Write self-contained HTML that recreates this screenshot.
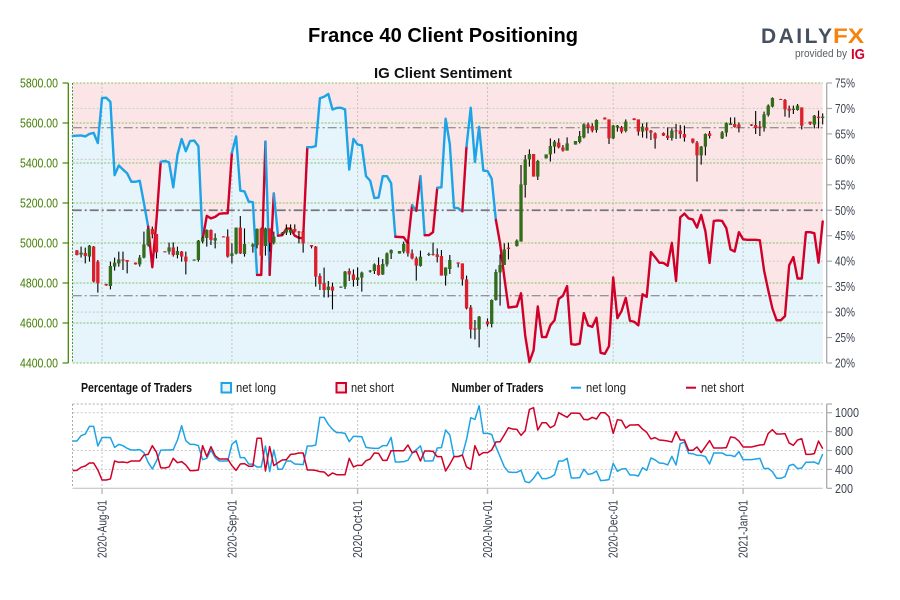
<!DOCTYPE html>
<html lang="en">
<head>
<meta charset="utf-8">
<title>France 40 Client Positioning</title>
<style>
html,body{margin:0;padding:0;background:#fff;}
svg{display:block;font-family:"Liberation Sans",sans-serif;}
</style>
</head>
<body>
<svg id="chart" xmlns="http://www.w3.org/2000/svg" width="900" height="600" viewBox="0 0 900 600">
  <rect x="0" y="0" width="900" height="600" fill="#fff"/>
  <text x="443" y="42" text-anchor="middle" font-size="20" font-weight="bold" fill="#000" textLength="270" lengthAdjust="spacingAndGlyphs">France 40 Client Positioning</text>
  <text x="443" y="78" text-anchor="middle" font-size="15" font-weight="bold" fill="#111" textLength="138" lengthAdjust="spacingAndGlyphs">IG Client Sentiment</text>
  <g>
    <text x="761" y="43" font-size="21" font-weight="bold" fill="#46505f" textLength="71" lengthAdjust="spacing">DAILY</text>
    <text x="833" y="43" font-size="21" font-weight="bold" fill="#f7820e" textLength="31" lengthAdjust="spacingAndGlyphs">FX</text>
    <text x="795" y="57" font-size="11" fill="#5a5f66" textLength="52" lengthAdjust="spacingAndGlyphs">provided by</text>
    <text x="851" y="59" font-size="15" font-weight="bold" fill="#d6002a" textLength="14" lengthAdjust="spacingAndGlyphs">IG</text>
  </g>
  <g id="main-panel"></g>
  <g id="lower-panel"></g>
  <g font-size="13" fill="#222">
    <text x="81" y="392" font-weight="bold" fill="#111" textLength="111" lengthAdjust="spacingAndGlyphs">Percentage of Traders</text>
    <rect x="221.5" y="383" width="9.5" height="9.5" fill="#e6f4fc" stroke="#1ea3e6" stroke-width="2"/>
    <text x="236" y="392" textLength="40" lengthAdjust="spacingAndGlyphs">net long</text>
    <rect x="336.5" y="383" width="9.5" height="9.5" fill="#fbe5e6" stroke="#d00028" stroke-width="2"/>
    <text x="351" y="392" textLength="43" lengthAdjust="spacingAndGlyphs">net short</text>
    <text x="451.5" y="392" font-weight="bold" fill="#111" textLength="92" lengthAdjust="spacingAndGlyphs">Number of Traders</text>
    <line x1="571" y1="387.7" x2="581" y2="387.7" stroke="#1ea3e6" stroke-width="2"/>
    <text x="586" y="392" textLength="40" lengthAdjust="spacingAndGlyphs">net long</text>
    <line x1="686" y1="387.7" x2="696" y2="387.7" stroke="#d00028" stroke-width="2"/>
    <text x="701" y="392" textLength="43" lengthAdjust="spacingAndGlyphs">net short</text>
  </g>
</svg>
<script>
// ---- chart data (one entry per calendar day, starting 2020-Jul-25) ----
const percentLong = [
64.6,64.65,64.7,64.5,65,65.2,63.2,72.05,72.1,71.3,
56.9,58.8,58,57.25,55.6,55.6,55.8,51.4,46.8,38.8,
48.1,59.5,59.7,59.4,54.5,60.9,64,61.6,63.6,63.7,
62.6,44.2,48.9,48.4,48.7,49.3,49.4,49.4,61.3,64.5,
53.85,53.7,51.7,51.6,37.3,37.3,63.5,37.3,53.3,45,
45.1,46.4,46.4,45,44.6,44.5,62.4,62.4,62.6,72,
72.3,72.85,69.8,70.1,70.15,69.8,58,64,62.9,62.75,
56.7,55.8,52.4,52.5,56.7,56.7,55.3,44.8,44.75,44.7,
43.5,51,49.9,56.7,45.1,45.1,45.7,54.4,54.5,68,
63,50.5,50.4,49.8,62.6,70.15,59.5,66.4,57.8,57.7,
56.2,48.1,43.5,36.9,30.9,31,31.1,33.7,25.4,20.2,
22.5,31.1,25.1,25.1,27.4,28.4,32.6,33.2,35.1,23.7,
23.6,23.8,29.8,27.4,27.1,28.9,22,21.8,23.3,36.8,
28.8,30.2,32.8,28.3,28.1,27.4,33.5,33,41.8,40.8,
39.7,39.65,39.1,43.6,36.1,48.6,49.35,48.4,48.2,46.6,
49.1,45.9,39.65,47.9,48,47.9,46.5,42.3,41.9,45.7,
44.3,44.2,44.2,44.2,44.1,38.2,34.3,30.7,28.4,28.4,
29.2,39.2,40.8,36.6,36.6,45.7,45.7,45.5,39.7,47.8];

const longTraders = [
700,700,757,774,855,855,648,736,739,736,
633,665,651,623,605,605,609,577,475,404,
489,602,605,605,609,711,863,704,665,665,
651,503,517,605,524,489,489,489,665,704,
524,524,457,454,426,426,648,376,605,401,
401,489,489,457,454,450,648,648,658,951,
951,877,824,789,789,781,693,750,750,746,
633,626,623,623,651,651,739,478,478,482,
496,570,609,648,489,489,492,626,630,817,
764,535,538,552,718,947,929,1074,781,781,
771,640,535,429,373,369,369,390,270,260,
306,373,302,302,316,344,489,489,517,309,
309,313,401,348,355,383,281,285,292,464,
380,404,408,341,341,330,418,390,521,500,
468,464,447,538,447,672,690,570,566,549,
549,535,457,574,574,574,549,549,535,588,
503,503,503,510,517,408,411,376,306,306,
323,440,454,408,415,475,475,478,457,563];

const shortTraders = [
387,390,422,436,468,468,394,288,288,299,
489,475,478,471,489,489,489,552,559,651,
581,418,415,426,517,471,482,447,387,387,
394,651,535,641,545,510,510,510,440,390,
457,461,433,433,729,729,383,641,440,471,
500,503,559,563,574,574,394,394,390,376,
373,330,362,344,344,344,517,426,443,443,
492,510,574,570,496,496,598,598,598,598,
658,577,591,489,595,595,591,535,535,383,
454,535,535,552,426,401,651,549,577,577,
605,690,693,764,841,827,824,760,810,1035,
1053,817,894,894,841,866,1000,975,951,996,
996,993,929,926,951,933,1000,1000,958,781,
926,919,838,870,870,873,827,792,722,736,
711,707,700,690,799,711,711,602,602,637,
577,640,704,626,626,626,630,743,736,700,
637,637,637,648,658,662,781,820,774,774,
778,679,655,711,725,559,559,567,700,619];

const candleDays = [
1,2,3,4,5,6, 8,9,10,11,12,13, 15,16,17,18,19,20, 22,23,24,25,26,27,
29,30,31,32,33,34, 36,37,38,39,40,41, 43,44,45,46,47,48, 50,51,52,53,54,55,
57,58,59,60,61,62, 64,65,66,67,68,69, 71,72,73,74,75,76, 78,79,80,81,82,83,
85,86,87,88,89,90, 92,93,94,95,96,97, 99,100,101,102,103,104, 106,107,108,109,110,111,
113,114,115,116,117,118, 120,121,122,123,124,125, 127,128,129,130,131,132, 134,135,136,137,138,139,
141,142,143,144,145,146, 148,149,150,151,152, 155,156,157,158,159,
162,163,164,165,166,167, 169,170,171,172,173,174, 176,177,178,179];

const candleOpen = [
4963,4942,4950,4932,4982,4907, 4795,4785,4882,4898,4918,4915, 4902,4893,4927,4990,5070,5045, 4958,4957,4978,4940,4957,4932,
4913,4915,5007,5025,5065,5012, 5033,5032,4935,4947,5077,4945, 4982,4990,5073,4985,5073,5002, 5047,5052,5052,5070,5057,5057,
4990,4982,4835,4798,4765,4782, 4777,4782,4860,4843,4815,4827, 4857,4860,4890,4843,4893,4948, 4947,4957,4998,4948,4923,4885,
4940,4945,4943,4935,4837,4870, 4903,4898,4818,4678,4573,4568, 4608,4595,4715,4853,4890,4977, 4985,5007,5290,5418,5445,5332,
5423,5443,5482,5502,5478,5462, 5492,5505,5528,5593,5585,5565, 5627,5618,5523,5578,5578,5560, 5623,5618,5557,5578,5562,5548,
5550,5537,5525,5563,5562,5545, 5522,5502,5438,5482,5548, 5523,5552,5590,5595,5593,
5593,5590,5582,5578,5640,5682, 5720,5715,5672,5665,5665,5678, 5607,5592,5632,5625];

const candleHigh = [
4965,4982,4977,4990,4985,4915, 4796,4907,4927,4957,4957,4915, 4903,4940,5057,5073,5082,5045, 4959,5002,5003,4982,4960,4957,
4918,5015,5032,5068,5068,5048, 5034,5068,4998,5077,5135,5073, 4998,5073,5077,5077,5073,5057, 5055,5093,5093,5093,5060,5060,
4990,4985,4848,4877,4810,4802, 4783,4860,4873,4868,4878,4857, 4865,4898,4928,4920,4953,4968, 4960,5007,5007,4968,4932,4962,
4952,5002,4973,4965,4878,4940, 4903,4898,4837,4690,4615,4635, 4623,4718,4868,4943,4998,5002, 5018,5390,5440,5468,5445,5415,
5443,5523,5515,5523,5490,5528, 5510,5560,5598,5602,5598,5618, 5628,5618,5590,5590,5585,5618, 5624,5618,5598,5603,5565,5553,
5553,5578,5573,5595,5590,5587, 5523,5510,5485,5548,5560, 5560,5603,5628,5628,5603,
5594,5660,5610,5657,5693,5728, 5721,5720,5687,5687,5695,5678, 5607,5640,5662,5648];

const candleLow = [
4938,4927,4898,4907,4803,4752, 4786,4768,4862,4882,4865,4848, 4892,4882,4923,4982,5023,4923, 4955,4943,4932,4923,4907,4843,
4912,4907,4998,4982,4990,4973, 5030,4927,4898,4943,4945,4932, 4952,4973,4937,4937,4957,4993, 5040,5040,5040,5052,4998,4952,
4973,4782,4765,4728,4728,4668, 4776,4770,4810,4782,4785,4757, 4852,4845,4837,4840,4882,4920, 4947,4948,4932,4918,4812,4882,
4935,4937,4903,4837,4787,4845, 4878,4787,4668,4523,4518,4478, 4582,4578,4712,4687,4890,4918, 4982,5007,5227,5382,5332,5315,
5423,5407,5448,5473,5457,5462, 5492,5498,5523,5548,5553,5552, 5617,5495,5520,5557,5548,5553, 5614,5537,5527,5523,5515,5472,
5535,5515,5512,5520,5523,5507, 5498,5307,5392,5438,5523, 5520,5532,5590,5577,5553,
5585,5545,5535,5557,5632,5678, 5715,5632,5627,5645,5662,5568, 5590,5573,5573,5593];

const candleClose = [
4940,4952,4935,4987,4807,4798, 4788,4885,4902,4918,4912,4907, 4893,4927,4993,5070,5043,4953, 4956,4978,4940,4960,4932,4907,
4917,5012,5027,5065,5015,5025, 5031,4932,4948,5077,4948,4995, 4993,5070,4937,5073,5002,5032, 5051,5068,5068,5057,5054,4998,
4982,4832,4795,4765,4782,4762, 4782,4857,4843,4815,4828,4852, 4862,4893,4840,4895,4948,4965, 4960,4995,4948,4923,4887,4932,
4945,4941,4930,4837,4878,4915, 4897,4818,4673,4568,4566,4632, 4593,4715,4855,4890,4968,4970, 5012,5293,5418,5445,5332,5410,
5443,5485,5507,5478,5462,5498, 5510,5535,5593,5578,5562,5615, 5618,5523,5587,5587,5557,5607, 5615,5557,5582,5562,5552,5522,
5537,5525,5562,5561,5545,5527, 5502,5438,5482,5545,5535, 5553,5598,5598,5580,5578,
5587,5575,5579,5643,5687,5725, 5716,5668,5662,5672,5687,5587, 5597,5637,5625,5632];

const priceTicks = [5800,5600,5400,5200,5000,4800,4600,4400];
const percentTicks = [75,70,65,60,55,50,45,40,35,30,25,20];
const percentGrid = [70,60,40,30];
const sentimentLevels = [66.2,50,33.2];
const countTicks = [1000,800,600,400,200];
const dateLabels = ['2020-Aug-01','2020-Sep-01','2020-Oct-01','2020-Nov-01','2020-Dec-01','2021-Jan-01'];
const dateDays = [7,38,68,99,129,160];

// ---- axis functions ----
const dayCount = percentLong.length;
const PLOT_LEFT = 72.7, PLOT_RIGHT = 822.7, MAIN_TOP = 83, MAIN_BOTTOM = 363;
const LOWER_TOP = 404, LOWER_BOTTOM = 488.3;
function xDay(d){ return PLOT_LEFT + d * (PLOT_RIGHT - PLOT_LEFT) / (dayCount - 1); }
function yPrice(p){ return MAIN_TOP + (5800 - p) * (MAIN_BOTTOM - MAIN_TOP) / 1400; }
function yPercent(v){ return MAIN_TOP + (75 - v) * (MAIN_BOTTOM - MAIN_TOP) / 55; }
function yCount(v){ return LOWER_BOTTOM - (v - 200) * 75.6 / 800; }

const SVG_NS = 'http://www.w3.org/2000/svg';
function make(parent, tag, attrs, text){
  const el = document.createElementNS(SVG_NS, tag);
  for (const k in attrs) el.setAttribute(k, attrs[k]);
  if (text !== undefined) el.textContent = text;
  parent.appendChild(el);
  return el;
}
const main = document.getElementById('main-panel');
const lower = document.getElementById('lower-panel');
const BLUE = '#1ea3e6', RED = '#d00028', GREEN_AXIS = '#3f8a00', GRID_GREEN = '#86c267', GRID_GRAY = '#cfcfcf', LABEL_GRAY = '#3a424e';
let el;

// ---- main panel background ----
el = make(main, 'rect', {x: PLOT_LEFT, y: MAIN_TOP, width: PLOT_RIGHT - PLOT_LEFT, height: MAIN_BOTTOM - MAIN_TOP, fill: '#fbe5e6'});



let areaPath = 'M' + xDay(0) + ' ' + MAIN_BOTTOM;
percentLong.forEach(function(v, i){ areaPath += ' L' + xDay(i).toFixed(2) + ' ' + yPercent(v).toFixed(2); });
areaPath += ' L' + xDay(dayCount - 1) + ' ' + MAIN_BOTTOM + ' Z';
el = make(main, 'path', {d: areaPath, fill: '#e6f4fc'});



// ---- main panel grid ----
percentGrid.forEach(function(v){
  el = make(main, 'line', {x1: PLOT_LEFT, x2: PLOT_RIGHT, y1: yPercent(v), y2: yPercent(v), stroke: GRID_GRAY, 'stroke-width': 1.2, 'stroke-dasharray': '2 2'});
  
  
});
dateDays.forEach(function(d){
  el = make(main, 'line', {x1: xDay(d), x2: xDay(d), y1: MAIN_TOP, y2: MAIN_BOTTOM, stroke: '#c4c4c4', 'stroke-width': 1, 'stroke-dasharray': '2 2'});
  
  
});
priceTicks.forEach(function(p){
  el = make(main, 'line', {x1: PLOT_LEFT, x2: PLOT_RIGHT, y1: yPrice(p), y2: yPrice(p), stroke: GRID_GREEN, 'stroke-width': 1, 'stroke-dasharray': '2 1.5'});
  
  
});
el = make(main, 'line', {x1: 72.5, x2: 72.5, y1: MAIN_TOP, y2: MAIN_BOTTOM, stroke: '#4f8f2c', 'stroke-width': 1, 'stroke-dasharray': '2 1.5'});


sentimentLevels.forEach(function(v){
  el = make(main, 'line', {x1: PLOT_LEFT, x2: PLOT_RIGHT, y1: yPercent(v), y2: yPercent(v), stroke: '#74767c', 'stroke-width': v === 50 ? 1.8 : 1, 'stroke-dasharray': '9 3 2 3'});
  
  
});

// ---- sentiment line: each segment coloured by its starting value ----
let run = [0];
function flushRun(colorFlag){
  let d = '';
  run.forEach(function(idx, n){ d += (n ? ' L' : 'M') + xDay(idx).toFixed(2) + ' ' + yPercent(percentLong[idx]).toFixed(2); });
  el = make(main, 'path', {d: d, fill: 'none', stroke: colorFlag ? BLUE : RED, 'stroke-width': 2.4, 'stroke-linejoin': 'round', 'stroke-linecap': 'round'});
  
  
}
for (let i = 1; i < dayCount; i++){
  const prevFlag = percentLong[run[0]] >= 50;
  const startFlag = percentLong[i - 1] >= 50;
  if (startFlag !== prevFlag){
    flushRun(prevFlag);
    run = [i - 1];
  }
  run.push(i);
}
flushRun(percentLong[run[0]] >= 50);

// ---- candlesticks ----
candleDays.forEach(function(d, i){
  const x = xDay(d), o = candleOpen[i], c = candleClose[i];
  const g = make(main, 'g', {});
  
  
  make(g, 'line', {x1: x, x2: x, y1: yPrice(candleHigh[i]), y2: yPrice(candleLow[i]), stroke: '#000', 'stroke-width': 1.1});
  const top = yPrice(Math.max(o, c)), bottom = yPrice(Math.min(o, c));
  make(g, 'rect', {x: x - 1.65, y: top, width: 3.3, height: Math.max(bottom - top, 1), fill: c >= o ? '#336c1a' : '#dc1f2b'});
});

// ---- left price axis ----
el = make(main, 'line', {x1: 68.3, x2: 68.3, y1: MAIN_TOP, y2: MAIN_BOTTOM, stroke: GREEN_AXIS, 'stroke-width': 1.3});


priceTicks.forEach(function(p){
  el = make(main, 'line', {x1: 62.5, x2: 68.3, y1: yPrice(p), y2: yPrice(p), stroke: GREEN_AXIS, 'stroke-width': 1.2});
  
  
  el = make(main, 'text', {x: 20, y: yPrice(p) + 4.5, 'font-size': 13, fill: '#3f7d00', textLength: 38, lengthAdjust: 'spacingAndGlyphs'}, p.toFixed(2));
  
  
});

// ---- right percent axis ----
el = make(main, 'line', {x1: 826.7, x2: 826.7, y1: MAIN_TOP, y2: MAIN_BOTTOM, stroke: '#a9a9a9', 'stroke-width': 1.3});


percentTicks.forEach(function(v){
  el = make(main, 'line', {x1: 826.7, x2: 832, y1: yPercent(v), y2: yPercent(v), stroke: '#a9a9a9', 'stroke-width': 1.2});
  
  
  el = make(main, 'text', {x: 835, y: yPercent(v) + 4.5, 'font-size': 13, fill: LABEL_GRAY, textLength: 20, lengthAdjust: 'spacingAndGlyphs'}, v + '%');
  
  
});

// ---- lower panel grid ----
countTicks.slice(0, 4).forEach(function(v){
  el = make(lower, 'line', {x1: PLOT_LEFT, x2: PLOT_RIGHT, y1: yCount(v), y2: yCount(v), stroke: '#c8c8c8', 'stroke-width': 1, 'stroke-dasharray': '2 2'});
  
  
});
el = make(lower, 'line', {x1: PLOT_LEFT, x2: PLOT_RIGHT, y1: LOWER_TOP, y2: LOWER_TOP, stroke: '#aaa', 'stroke-width': 1, 'stroke-dasharray': '2 2'});


el = make(lower, 'line', {x1: 72.5, x2: 72.5, y1: LOWER_TOP, y2: LOWER_BOTTOM, stroke: '#aaa', 'stroke-width': 1, 'stroke-dasharray': '2 2'});


dateDays.forEach(function(d, i){
  el = make(lower, 'line', {x1: xDay(d), x2: xDay(d), y1: LOWER_TOP, y2: LOWER_BOTTOM, stroke: '#c4c4c4', 'stroke-width': 1, 'stroke-dasharray': '2 2'});
  
  
  el = make(lower, 'line', {x1: xDay(d), x2: xDay(d), y1: LOWER_BOTTOM, y2: 494, stroke: '#bdbdbd', 'stroke-width': 1.5});
  
  
  const lx = xDay(d) + 4.5;
  el = make(lower, 'text', {x: lx, y: 558, 'font-size': 13, fill: LABEL_GRAY, transform: 'rotate(-90 ' + lx + ' 558)', textLength: 58, lengthAdjust: 'spacingAndGlyphs'}, dateLabels[i]);
  
  
});
el = make(lower, 'line', {x1: PLOT_LEFT, x2: PLOT_RIGHT, y1: LOWER_BOTTOM, y2: LOWER_BOTTOM, stroke: '#bdbdbd', 'stroke-width': 1});



// ---- trader count lines ----
function countPath(values){
  let d = '';
  values.forEach(function(v, i){ d += (i ? ' L' : 'M') + xDay(i).toFixed(2) + ' ' + yCount(v).toFixed(2); });
  return d;
}
el = make(lower, 'path', {d: countPath(longTraders), fill: 'none', stroke: BLUE, 'stroke-width': 1.5, 'stroke-linejoin': 'round'});


el = make(lower, 'path', {d: countPath(shortTraders), fill: 'none', stroke: RED, 'stroke-width': 1.5, 'stroke-linejoin': 'round'});



// ---- lower right axis ----
el = make(lower, 'line', {x1: 826.7, x2: 826.7, y1: LOWER_TOP, y2: LOWER_BOTTOM, stroke: '#a9a9a9', 'stroke-width': 1.3});


countTicks.forEach(function(v){
  el = make(lower, 'line', {x1: 826.7, x2: 832, y1: yCount(v), y2: yCount(v), stroke: '#a9a9a9', 'stroke-width': 1.2});
  
  
  el = make(lower, 'text', {x: 835, y: yCount(v) + 4.5, 'font-size': 13, fill: LABEL_GRAY, textLength: v >= 1000 ? 24 : 18, lengthAdjust: 'spacingAndGlyphs'}, String(v));
  
  
});
el = make(lower, 'line', {x1: 826.7, x2: 832, y1: LOWER_TOP, y2: LOWER_TOP, stroke: '#a9a9a9', 'stroke-width': 1.2});


</script>
</body>
</html>
